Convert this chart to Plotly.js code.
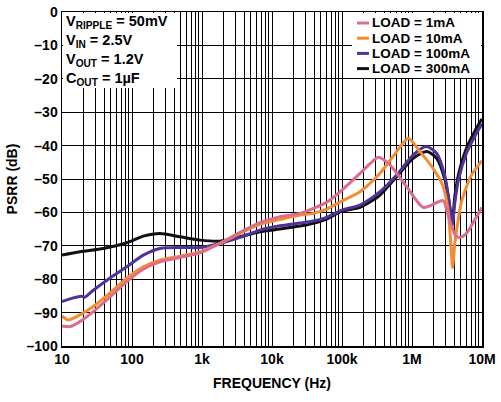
<!DOCTYPE html>
<html>
<head>
<meta charset="utf-8">
<script src="https://cdn.plot.ly/plotly-3.0.1.min.js"></script>
<style>
  html, body { margin: 0; padding: 0; background: #fff; }
  #chart { width: 501px; height: 402px; }
</style>
</head>
<body>
<div id="chart"></div>
<script>
// PSRR vs frequency
const freq1mA = [10, 13, 18, 28, 48, 84, 145, 251, 485, 935, 1800, 3500, 6700, 13000, 25000, 39000, 60000, 100000, 181000, 250000, 330000, 485000, 840000, 1450000, 2400000, 2800000, 3400000, 4200000, 4800000, 6000000, 8000000, 10000000];
const psrr1mA = [-94, -94.2, -92.7, -89.7, -85.4, -80.7, -77, -74.8, -73.5, -72.1, -69.3, -66, -63.1, -61.3, -60.3, -58.8, -57, -53.3, -48.3, -45.5, -43.5, -45.8, -52.3, -58.5, -56.8, -56.5, -62, -67, -67.5, -66.3, -62, -58.5];

const freq10mA = [10, 12.3, 18, 28, 48, 84, 145, 251, 485, 935, 1800, 3500, 6700, 13000, 25000, 39000, 60000, 100000, 181000, 349000, 604000, 887000, 1300000, 2000000, 2800000, 3300000, 3600000, 3800000, 4050000, 4400000, 5100000, 7000000, 10000000];
const psrr10mA = [-91, -92.2, -90.7, -88.2, -84.2, -79.7, -76.3, -74.3, -73.1, -71.8, -69.3, -66.3, -63.5, -62.1, -60.8, -60.3, -59, -56.6, -53.8, -48.3, -41.8, -37.8, -41.8, -46.8, -52.3, -60, -70, -76.5, -70, -64.5, -56.8, -49, -44.5];

const freq100mA = [10, 14.5, 19, 21, 28, 48, 84, 145, 251, 485, 935, 1800, 3500, 6700, 13000, 25000, 39000, 60000, 100000, 181000, 349000, 604000, 1040000, 1600000, 2250000, 2960000, 3400000, 3750000, 4100000, 4600000, 6000000, 8000000, 10000000];
const psrr100mA = [-86.7, -85.6, -85.1, -85.4, -83.3, -79.7, -76.3, -72.8, -70.8, -70.5, -70.5, -69.3, -67.5, -65.3, -64, -63.2, -62.6, -61.5, -59.3, -57.8, -53.8, -48.8, -42.8, -40.3, -42.3, -49.3, -57, -64, -57, -50.3, -42.3, -37, -33.5];

const freq300mA = [10, 18, 39, 84, 145, 251, 485, 935, 1800, 3500, 6700, 13000, 25000, 39000, 60000, 100000, 181000, 349000, 604000, 1040000, 1620000, 2250000, 2960000, 3400000, 3750000, 4100000, 4600000, 6000000, 8000000, 10000000];
const psrr300mA = [-72.8, -71.8, -70.8, -69.1, -67.1, -66.3, -67.3, -68.3, -68.6, -67.3, -65.8, -65, -64.1, -63.3, -62, -59.6, -58.5, -54.8, -49.3, -43.8, -41.8, -43.8, -50.3, -57, -63, -55, -48.8, -40.8, -35.5, -32];

const seriesNames = ['LOAD = 1mA', 'LOAD = 10mA', 'LOAD = 100mA', 'LOAD = 300mA'];
const seriesColors = ['#dc6e8c', '#f48c32', '#50329a', '#111111'];

const conditions = ['V<sub>RIPPLE</sub> = 50mV', 'V<sub>IN</sub> = 2.5V', 'V<sub>OUT</sub> = 1.2V', 'C<sub>OUT</sub> = 1µF'];

const xTickVals = [10, 100, 1e3, 1e4, 1e5, 1e6, 1e7];
const xTickText = ['10', '100', '1k', '10k', '100k', '1M', '10M'];
const yTickVals = [0, -10, -20, -30, -40, -50, -60, -70, -80, -90, -100];
const yTickText = ['0', '–10', '–20', '–30', '–40', '–50', '–60', '–70', '–80', '–90', '–100'];

// minor grid lines at 2..9 of every decade
const minorX = [];
for (let d = 10; d < 1e7; d *= 10) {
    for (let k = 2; k <= 9; k++) minorX.push(d * k);
}

const fam = 'Liberation Sans, Arial, sans-serif';
const font = { family: fam, size: 14, color: '#000', weight: 'bold' };

function series(x, y, i) {
    return {
        x: x, y: y, name: seriesNames[i], type: 'scatter', mode: 'lines',
        line: { color: seriesColors[i], width: 3, shape: 'spline', smoothing: 0.7 }
    };
}

// drawn back to front: 300mA at the bottom, 1mA on top
const data = [
    series(freq300mA, psrr300mA, 3),
    series(freq100mA, psrr100mA, 2),
    series(freq10mA, psrr10mA, 1),
    series(freq1mA, psrr1mA, 0)
];

// plot area in pixels: x 62..482, y 12..346
const plotW = 420, plotH = 334;
const px = v => (v - 62) / plotW;
const py = v => 1 - (v - 12) / plotH;

const shapes = [
    // white boxes behind the condition text and the key
    { type: 'rect', xref: 'paper', yref: 'paper', layer: 'above', x0: px(63), x1: px(177), y0: py(88), y1: py(13),
      fillcolor: '#fff', line: { width: 0 } },
    { type: 'rect', xref: 'paper', yref: 'paper', layer: 'above', x0: px(352), x1: px(481), y0: py(78), y1: py(13),
      fillcolor: '#fff', line: { width: 0 } }
];

const annotations = [{
    xref: 'paper', yref: 'paper', x: px(65), y: py(12), xanchor: 'left', yanchor: 'top',
    align: 'left', showarrow: false, borderpad: 0,
    text: conditions.join('<br>'),
    font: { family: fam, size: 14.5, weight: 'bold', color: '#000' }
}];

seriesNames.forEach((name, i) => {
    const rowY = py(23 + i * 15.2);
    shapes.push({
        type: 'line', xref: 'paper', yref: 'paper', layer: 'above',
        x0: px(357), x1: px(369), y0: rowY, y1: rowY,
        line: { color: seriesColors[i], width: 3 }
    });
    annotations.push({
        xref: 'paper', yref: 'paper', x: px(371), y: rowY, xanchor: 'left', yanchor: 'middle',
        align: 'left', showarrow: false, borderpad: 0, text: name,
        font: { family: fam, size: 13.5, weight: 'bold', color: '#000' }
    });
});

const layout = {
    width: 501, height: 402,
    margin: { l: 62, r: 19, t: 12, b: 56 },
    paper_bgcolor: '#fff', plot_bgcolor: '#fff',
    font: font,
    showlegend: false,
    xaxis: {
        type: 'log', range: [1, 7],
        tickmode: 'array', tickvals: xTickVals, ticktext: xTickText,
        ticks: '', showgrid: true, gridcolor: '#000', gridwidth: 1,
        minor: { tickmode: 'array', tickvals: minorX, showgrid: true, gridcolor: '#000', gridwidth: 1, ticks: '' },
        showline: true, linecolor: '#000', linewidth: 1.5, mirror: true,
        zeroline: false,
        tickfont: font,
        title: { text: 'FREQUENCY (Hz)', font: font, standoff: 12 }
    },
    yaxis: {
        range: [-100, 0],
        tickmode: 'array', tickvals: yTickVals, ticktext: yTickText,
        ticks: '', showgrid: true, gridcolor: '#000', gridwidth: 1,
        showline: true, linecolor: '#000', linewidth: 1.5, mirror: true,
        zeroline: false,
        tickfont: font,
        title: { text: 'PSRR (dB)', font: font, standoff: 5 }
    },
    shapes: shapes,
    annotations: annotations
};

Plotly.newPlot('chart', data, layout, { displayModeBar: false, staticPlot: true });
</script>
</body>
</html>
